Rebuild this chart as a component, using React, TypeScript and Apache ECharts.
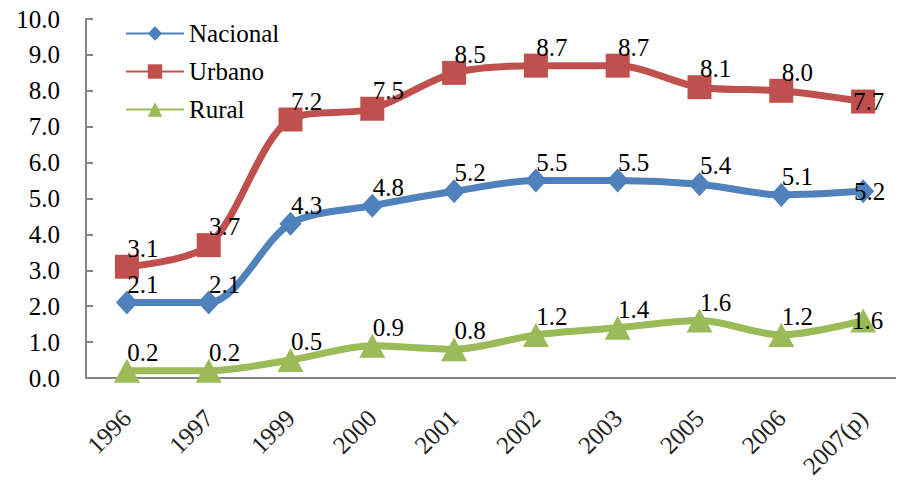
import React, { useEffect, useRef } from "react";
import * as echarts from "echarts";

const categories = ["1996", "1997", "1999", "2000", "2001", "2002", "2003", "2005", "2006", "2007(p)"];
const nacional = [2.1, 2.1, 4.3, 4.8, 5.2, 5.5, 5.5, 5.4, 5.1, 5.2];
const urbano = [3.1, 3.7, 7.2, 7.5, 8.5, 8.7, 8.7, 8.1, 8.0, 7.7];
const rural = [0.2, 0.2, 0.5, 0.9, 0.8, 1.2, 1.4, 1.6, 1.2, 1.6];

const FONT = "Liberation Serif";
const rich = (size: number, color: string) => ({
  s: { fontFamily: FONT, fontSize: size, color, lineHeight: size },
});

function makeData(values: number[]) {
  return values.map((v, i) =>
    i === values.length - 1
      ? { value: v, label: { position: "insideLeft", offset: [2, 0] } }
      : { value: v }
  );
}

export default function App() {
  const ref = useRef<HTMLDivElement>(null);
  useEffect(() => {
    if (!ref.current) return;
    const chart = echarts.init(ref.current, null, { renderer: "svg" });
    const mk = (name: string, values: number[], color: string, symbol: string, size: any) => ({
      name,
      type: "line",
      data: makeData(values),
      smooth: 0.3,
      symbol,
      symbolSize: size,
      lineStyle: { color, width: 7 },
      itemStyle: { color },
      label: {
        show: true,
        position: "top",
        distance: 0,
        offset: [16, 6],
        color: "#000",
        fontFamily: FONT,
        fontSize: 25,
        formatter: (p: any) => "{s|" + Number(p.value).toFixed(1) + "}",
        rich: rich(25, "#000"),
      },
    });
    chart.setOption({
      animation: false,
      textStyle: { fontFamily: FONT },
      grid: { left: 86, right: -2, top: 19, bottom: 109 },
      legend: {
        left: 120,
        top: 16,
        orient: "vertical",
        itemWidth: 58,
        itemHeight: 18,
        itemGap: 13,
        formatter: (n: string) => "{s|" + n + "}",
        textStyle: { fontFamily: FONT, fontSize: 25, color: "#000", rich: rich(25, "#000") },
        data: ["Nacional", "Urbano", "Rural"],
      },
      xAxis: {
        type: "category",
        data: categories,
        axisLine: { lineStyle: { color: "#868686", width: 2 } },
        axisTick: { inside: true, length: 7, lineStyle: { color: "#868686", width: 2 } },
        axisLabel: {
          rotate: 45,
          margin: 36,
          fontFamily: FONT,
          fontSize: 25,
          color: "#222",
          formatter: (v: string) => "{s|" + v + "}",
          rich: rich(25, "#222"),
        },
      },
      yAxis: {
        type: "value",
        min: 0,
        max: 10,
        interval: 1,
        splitLine: { show: false },
        axisLine: { show: true, lineStyle: { color: "#868686", width: 2 } },
        axisTick: { show: true, inside: true, length: 7, lineStyle: { color: "#868686", width: 2 } },
        axisLabel: {
          margin: 26,
          fontFamily: FONT,
          fontSize: 25,
          color: "#000",
          formatter: (v: number) => "{s|" + v.toFixed(1) + "}",
          rich: rich(25, "#000"),
        },
      },
      series: [
        mk("Nacional", nacional, "#4F81BD", "diamond", [22, 24]),
        mk("Urbano", urbano, "#C0504D", "rect", 24),
        mk("Rural", rural, "#9BBB59", "triangle", [26, 24]),
      ],
    });
    return () => chart.dispose();
  }, []);
  return <div ref={ref} style={{ width: 904, height: 487, margin: -8 }} />;
}
